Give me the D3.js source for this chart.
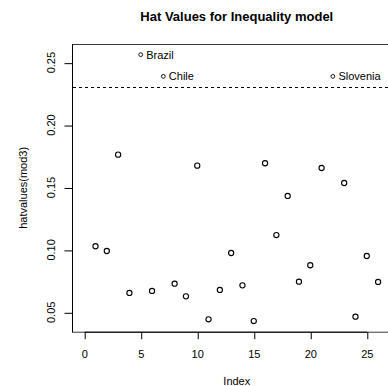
<!DOCTYPE html>
<html>
<head>
<meta charset="utf-8">
<script src="https://cdn.jsdelivr.net/npm/d3@7"></script>
<style>
  html, body { margin: 0; padding: 0; background: #fff; }
  svg { display: block; }
  text { font-family: "Liberation Sans", Arial, Helvetica, sans-serif; fill: #000; }
</style>
</head>
<body>
<svg id="chart" width="388" height="386"></svg>
<script>
// Hat values (leverage) of each observation in the inequality model
const hatIndex = d3.range(1, 27);
const hatValues = [
  0.1029, 0.0991, 0.1763, 0.0655, 0.2564, 0.0671, 0.2390, 0.0729, 0.0628, 0.1675,
  0.0444, 0.0679, 0.0975, 0.0716, 0.0430, 0.1694, 0.1119, 0.1432, 0.0745, 0.0877,
  0.1656, 0.2390, 0.1536, 0.0465, 0.0951, 0.0743
];
// Observations above the cutoff, labelled by country
const labelIndex = [5, 7, 22];
const labelNames = ["Brazil", "Chile", "Slovenia"];
// Cutoff: 3 times the mean hat value (3 * p / n)
const cutoff = 0.2308;

const xTicks = [0, 5, 10, 15, 20, 25];
const yTicks = [0.05, 0.10, 0.15, 0.20, 0.25];
const xLimits = [0, 27];

const svg = d3.select("#chart");
const plot = { left: 72, right: 401.6, top: 44, bottom: 331.7 };

// Base-graphics style 4% padding around the data range
function padded([lo, hi]) {
  const r = hi - lo;
  return [lo - 0.04 * r, hi + 0.04 * r];
}

const x = d3.scaleLinear().domain(padded(xLimits)).range([plot.left, plot.right]);
const y = d3.scaleLinear().domain(padded(d3.extent(hatValues))).range([plot.bottom, plot.top]);

// Plot frame
svg.append("rect")
  .attr("x", plot.left + 0.5).attr("y", plot.top + 0.5)
  .attr("width", plot.right - plot.left).attr("height", plot.bottom - plot.top)
  .attr("fill", "none").attr("stroke", "#3a3a3a").attr("stroke-width", 1);

// X axis
const xAxis = d3.axisBottom(x).tickValues(xTicks).tickSize(7).tickFormat(() => "");
const gx = svg.append("g").attr("transform", `translate(0.5,${plot.bottom + 0.5})`).call(xAxis);
gx.select(".domain").attr("d", `M${x(xTicks[0])},0H${x(xTicks[xTicks.length - 1])}`)
  .attr("stroke", "#000");
gx.selectAll(".tick line").attr("stroke", "#000");
gx.selectAll(".tick text").remove();
svg.append("g").selectAll("text").data(xTicks).join("text")
  .attr("x", d => x(d) + 0.5).attr("y", 357.5)
  .attr("text-anchor", "middle").attr("font-size", 11)
  .text(d3.format("d"));

// Y axis, labels written parallel to the axis
const yAxis = d3.axisLeft(y).tickValues(yTicks).tickSize(8).tickFormat(() => "");
const gy = svg.append("g").attr("transform", `translate(${plot.left + 0.5},0.5)`).call(yAxis);
gy.select(".domain").attr("d", `M0,${plot.top}V${plot.bottom}`).attr("stroke", "#000");
gy.selectAll(".tick line").attr("stroke", "#000");
gy.selectAll(".tick text").remove();
svg.append("g").selectAll("text").data(yTicks).join("text")
  .attr("transform", d => `translate(54.5,${y(d)}) rotate(-90)`)
  .attr("text-anchor", "middle").attr("font-size", 11)
  .text(d3.format(".2f"));

// Cutoff line
svg.append("line")
  .attr("x1", plot.left + 1).attr("x2", plot.right)
  .attr("y1", Math.round(y(cutoff)) + 0.5).attr("y2", Math.round(y(cutoff)) + 0.5)
  .attr("stroke", "#000").attr("stroke-width", 1).attr("stroke-dasharray", "3,3");

// Points (labelled observations get a small marker and their name)
const pts = hatIndex.map((i, k) => ({ i, v: hatValues[k] }));
svg.append("g").selectAll("circle")
  .data(pts.filter(d => !labelIndex.includes(d.i)))
  .join("circle")
  .attr("cx", d => x(d.i)).attr("cy", d => y(d.v)).attr("r", 2.6)
  .attr("fill", "none").attr("stroke", "#000").attr("stroke-width", 1.1);

const labelled = labelIndex.map((i, k) => ({ i, v: hatValues[i - 1], name: labelNames[k] }));
const lg = svg.append("g").selectAll("g").data(labelled).join("g")
  .attr("transform", d => `translate(${x(d.i)},${y(d.v)})`);
lg.append("circle").attr("r", 1.9).attr("fill", "none").attr("stroke", "#000").attr("stroke-width", 0.9);
lg.append("text").attr("x", 5.5).attr("y", 4).attr("font-size", 11).text(d => d.name);

// Titles
svg.append("text")
  .attr("x", (plot.left + plot.right) / 2).attr("y", 21)
  .attr("text-anchor", "middle").attr("font-size", 13).attr("font-weight", "bold")
  .text("Hat Values for Inequality model");
svg.append("text")
  .attr("x", (plot.left + plot.right) / 2).attr("y", 384.5)
  .attr("text-anchor", "middle").attr("font-size", 11)
  .text("Index");
svg.append("text")
  .attr("transform", `translate(27,${(plot.top + plot.bottom) / 2}) rotate(-90)`)
  .attr("text-anchor", "middle").attr("font-size", 11)
  .text("hatvalues(mod3)");
</script>
</body>
</html>
